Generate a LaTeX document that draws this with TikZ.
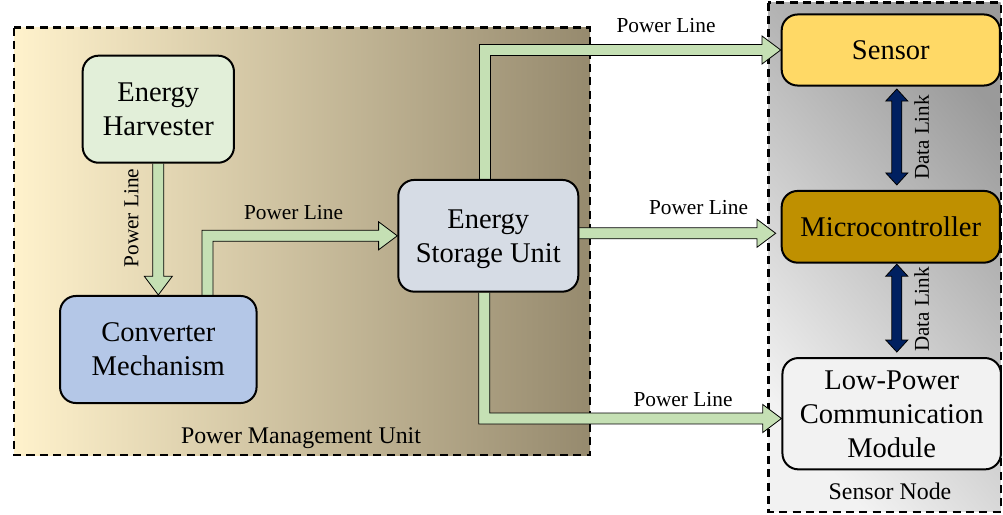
\documentclass[tikz,border=0pt]{standalone}
\usepackage{fontspec}
\setmainfont{Liberation Serif}
\usetikzlibrary{calc}
\definecolor{pmuL}{HTML}{FFF2CC}
\definecolor{pmuR}{HTML}{968A6E}
\definecolor{snL}{HTML}{F2F2F2}
\definecolor{snR}{HTML}{9A9A9A}
\definecolor{harvC}{HTML}{E2EFD9}
\definecolor{convC}{HTML}{B4C7E7}
\definecolor{esuC}{HTML}{D6DCE5}
\definecolor{sensC}{HTML}{FFD966}
\definecolor{mcuC}{HTML}{BF9000}
\definecolor{lpcC}{HTML}{F2F2F2}
\definecolor{plC}{HTML}{C5E0B4}
\definecolor{dlC}{HTML}{002060}
\newcommand\PLs{4.1pt}
\newcommand\PLl{14pt}
\newcommand\PLh{10.5pt}
\newcommand\DLs{3.75pt}
\newcommand\DLl{9pt}
\newcommand\DLh{8.25pt}
\pgfdeclarelayer{bglayer}
\pgfdeclarelayer{arrlayer}
\pgfsetlayers{bglayer,arrlayer,main}
\begin{document}
\begin{tikzpicture}[x=0.75pt,y=-0.75pt,
 box/.style={draw=black, line width=1.5pt, rounded corners=12pt, align=center,
   font=\fontsize{21.4pt}{25.5pt}\selectfont, inner sep=0pt, text depth=0pt},
 cont/.style={draw=black, line width=1.8pt, dash pattern=on 6pt off 4pt},
 pline/.style={fill=plC, draw=black, line width=0.6pt, line join=miter},
 dline/.style={fill=dlC, draw=black, line width=0.6pt, line join=miter},
 lbl/.style={font=\fontsize{16pt}{19pt}\selectfont, inner sep=0pt},
 clbl/.style={font=\fontsize{17.9pt}{21pt}\selectfont, inner sep=0pt},
 dlbl/.style={font=\fontsize{15.8pt}{19pt}\selectfont, inner sep=0pt, rotate=90}]
\useasboundingbox (0,0) rectangle (1003,514);

% containers
\begin{pgfonlayer}{bglayer}
\shade[left color=pmuL, right color=pmuR] (14,27.5) rectangle (590,455);
\draw[cont] (14,27.5) rectangle (590,455);
\shade[left color=snL, right color=snR, shading angle=130] (768.3,2.7) rectangle (1000.7,511.7);
\draw[cont] (768.3,2.7) rectangle (1000.7,511.7);
\end{pgfonlayer}

% boxes
\node[box, fill=harvC, minimum width=113.5pt, minimum height=80.3pt] (harv) at (158.3,109.2) {Energy\\Harvester};
\node[box, fill=convC, minimum width=147.4pt, minimum height=80.3pt] (conv) at (158.3,349.5) {Converter\\Mechanism};
\node[box, fill=esuC, minimum width=135pt, minimum height=83.8pt] (esu) at (488.3,235.8) {Energy\\Storage Unit};
\node[box, fill=sensC, minimum width=163.7pt, minimum height=53.3pt] (sens) at (890.8,50) {Sensor};
\node[box, fill=mcuC, minimum width=163.7pt, minimum height=53.8pt] (mcu) at (890.8,226.8) {Microcontroller};
\node[box, fill=lpcC, minimum width=163.9pt, minimum height=83.5pt] (lpc) at (891.7,413.7) {Low-Power\\Communication\\Module};

% connector end points
\coordinate (a2s) at ($(conv.north)+(49.2,0)$);
\coordinate (a3s) at ($(esu.north)+(-3.3,0)$);
\coordinate (a4s) at ($(esu.east)+(0,-2.5)$);
\coordinate (a4e) at ($(mcu.west)+(-5,0)$);
\coordinate (a5s) at ($(esu.south)+(-4,0)$);
\coordinate (a5e) at ($(lpc.west)+(0,4.8)$);
\coordinate (d1t) at ($(sens.south)+(6,2.5)$);
\coordinate (d1b) at ($(mcu.north)+(6,-5)$);
\coordinate (d2t) at ($(mcu.south)+(6,0.5)$);
\coordinate (d2b) at ($(lpc.north)+(5.1,-5)$);

\begin{pgfonlayer}{arrlayer}
% harvester -> converter
\draw[pline] let \p1=(harv.south), \p2=(conv.north) in
  (\x1-\PLs,\y1) -- (\x1-\PLs,\y2+\PLl) -- (\x1-\PLh,\y2+\PLl) -- (\x1,\y2)
  -- (\x1+\PLh,\y2+\PLl) -- (\x1+\PLs,\y2+\PLl) -- (\x1+\PLs,\y1);
% converter -> storage
\draw[pline] let \p1=(a2s), \p2=(esu.west) in
  (\x1-\PLs,\y1) -- (\x1-\PLs,\y2+\PLs) -- (\x2-\PLl,\y2+\PLs) -- (\x2-\PLl,\y2+\PLh)
  -- (\x2,\y2) -- (\x2-\PLl,\y2-\PLh) -- (\x2-\PLl,\y2-\PLs) -- (\x1+\PLs,\y2-\PLs) -- (\x1+\PLs,\y1);
% storage -> sensor
\draw[pline] let \p1=(a3s), \p2=(sens.west) in
  (\x1-\PLs,\y1) -- (\x1-\PLs,\y2+\PLs) -- (\x2-\PLl,\y2+\PLs) -- (\x2-\PLl,\y2+\PLh)
  -- (\x2,\y2) -- (\x2-\PLl,\y2-\PLh) -- (\x2-\PLl,\y2-\PLs) -- (\x1+\PLs,\y2-\PLs) -- (\x1+\PLs,\y1);
% storage -> microcontroller
\draw[pline] let \p1=(a4s), \p2=(a4e) in
  (\x1,\y1+\PLs) -- (\x2-\PLl,\y1+\PLs) -- (\x2-\PLl,\y1+\PLh) -- (\x2,\y1)
  -- (\x2-\PLl,\y1-\PLh) -- (\x2-\PLl,\y1-\PLs) -- (\x1,\y1-\PLs);
% storage -> communication module
\draw[pline] let \p1=(a5s), \p2=(a5e) in
  (\x1-\PLs,\y1) -- (\x1-\PLs,\y2-\PLs) -- (\x2-\PLl,\y2-\PLs) -- (\x2-\PLl,\y2-\PLh)
  -- (\x2,\y2) -- (\x2-\PLl,\y2+\PLh) -- (\x2-\PLl,\y2+\PLs) -- (\x1+\PLs,\y2+\PLs) -- (\x1+\PLs,\y1);
% data links
\draw[dline] let \p1=(d1t), \p2=(d1b) in
  (\x1-\DLs,\y1-\DLl) -- (\x1-\DLh,\y1-\DLl) -- (\x1,\y1) -- (\x1+\DLh,\y1-\DLl) -- (\x1+\DLs,\y1-\DLl)
  -- (\x1+\DLs,\y2+\DLl) -- (\x1+\DLh,\y2+\DLl) -- (\x1,\y2) -- (\x1-\DLh,\y2+\DLl) -- (\x1-\DLs,\y2+\DLl) -- cycle;
\draw[dline] let \p1=(d2t), \p2=(d2b) in
  (\x1-\DLs,\y1-\DLl) -- (\x1-\DLh,\y1-\DLl) -- (\x1,\y1) -- (\x1+\DLh,\y1-\DLl) -- (\x1+\DLs,\y1-\DLl)
  -- (\x1+\DLs,\y2+\DLl) -- (\x1+\DLh,\y2+\DLl) -- (\x1,\y2) -- (\x1-\DLh,\y2+\DLl) -- (\x1-\DLs,\y2+\DLl) -- cycle;
\end{pgfonlayer}

% labels
\node[lbl, rotate=90] (pl1) at (131.5,218) {Power Line};
\node[lbl] (pl2) at (293.5,213) {Power Line};
\node[lbl] (pl3) at (666,26) {Power Line};
\node[lbl] (pl4) at (698.5,208) {Power Line};
\node[lbl] (pl5) at (683,400) {Power Line};
\node[dlbl] (dl1) at (921.7,137.5) {Data Link};
\node[dlbl] (dl2) at (921.7,309.5) {Data Link};
\node[clbl] (pmul) at (301,438) {Power Management Unit};
\node[clbl] (snl) at (890,491.7) {Sensor Node};
\end{tikzpicture}
\end{document}
